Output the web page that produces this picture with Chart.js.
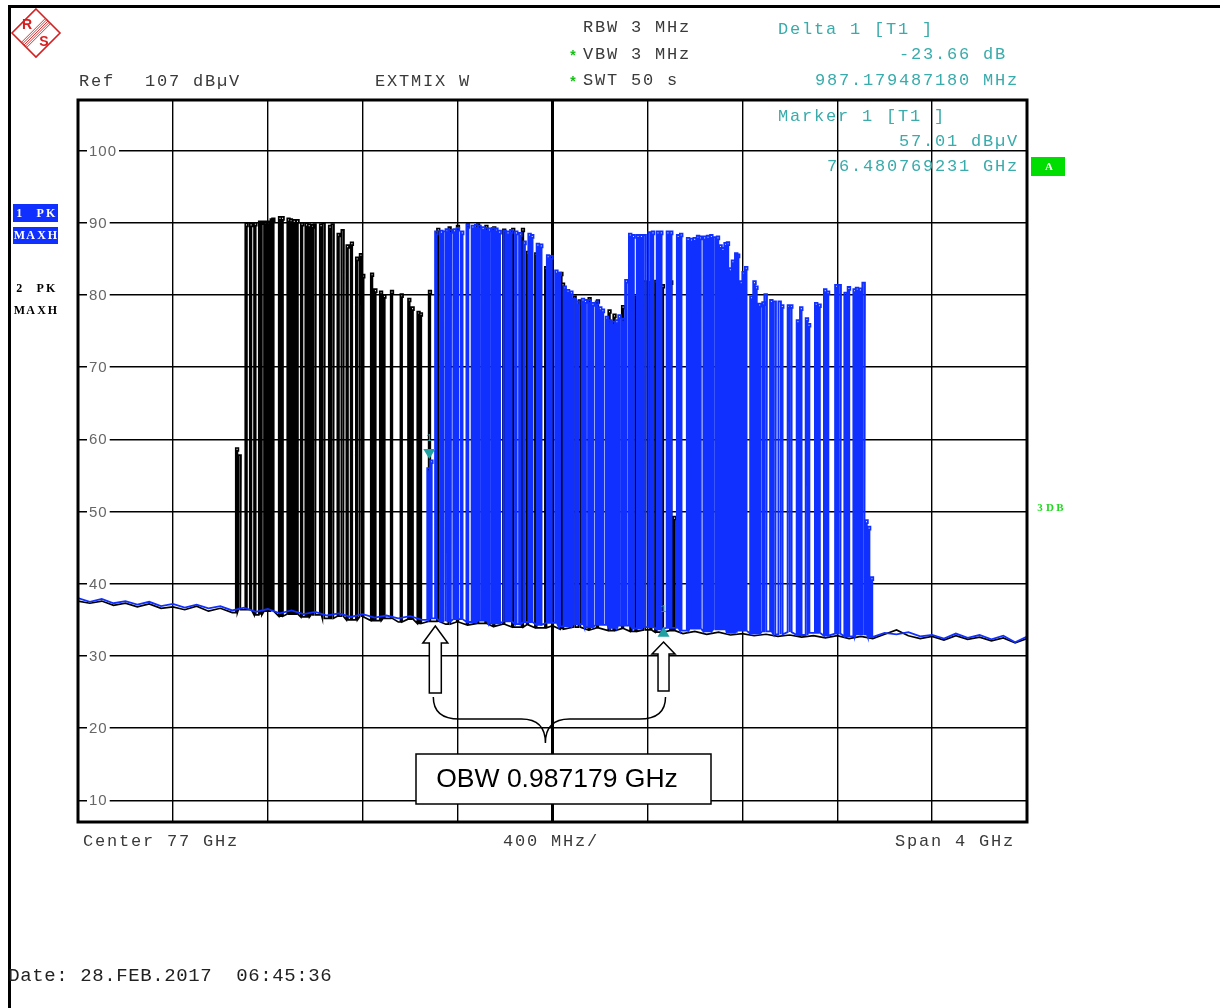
<!DOCTYPE html>
<html>
<head>
<meta charset="utf-8">
<title>Spectrum OBW</title>
<script src="https://cdn.jsdelivr.net/npm/chart.js@4.4.1/dist/chart.umd.min.js"></script>
<style>
  html, body { margin: 0; padding: 0; background: #fff; }
  canvas { display: block; }
</style>
</head>
<body>
<canvas id="spectrum" width="1220" height="1008"></canvas>
<script>
// trace 2 (black, PK MAXH) - line frequencies in GHz and peak levels in dBuV
const blackFreqs = [75.665, 75.676, 75.705, 75.724, 75.742, 75.762, 75.768, 75.784, 75.798, 75.811,
  75.818, 75.846, 75.857, 75.882, 75.892, 75.906, 75.920, 75.939, 75.958, 75.969,
  75.983, 75.992, 76.019, 76.030, 76.057, 76.068, 76.093, 76.110, 76.131, 76.149,
  76.171, 76.187, 76.197, 76.234, 76.248, 76.272, 76.286, 76.318, 76.359, 76.391,
  76.405, 76.430, 76.440, 76.478, 76.513, 76.561, 76.596, 76.638, 76.681, 76.716,
  76.749, 76.791, 76.829, 76.870, 76.891, 76.926, 76.968, 77.032, 77.039, 77.088,
  77.109, 77.151, 77.186, 77.235, 77.256, 77.292, 77.327, 77.348, 77.383, 77.411,
  77.432, 77.460, 77.495, 77.509];
const blackPeaks = [58.8, 57.8, 89.9, 89.9, 90.0, 90.2, 90.2, 90.2, 90.2, 90.5,
  90.6, 90.8, 90.8, 90.6, 90.5, 90.4, 90.4, 90.0, 89.9, 89.8,
  89.7, 89.8, 89.8, 89.9, 89.6, 89.8, 88.5, 89.0, 86.9, 87.3,
  85.2, 85.7, 82.8, 83.0, 80.8, 80.5, 80.0, 80.6, 80.1, 79.5,
  78.3, 77.7, 77.5, 80.6, 89.2, 89.4, 89.6, 89.8, 89.8, 89.6,
  89.4, 89.1, 89.2, 89.2, 86.0, 85.8, 83.9, 83.1, 81.6, 79.8,
  79.3, 79.6, 79.3, 77.9, 77.3, 78.5, 80.9, 79.8, 81.9, 81.8,
  82.0, 81.4, 81.9, 49.3];

// trace 1 (blue, PK MAXH)
const blueFreqs = [76.472, 76.484, 76.505, 76.526, 76.540, 76.550, 76.564, 76.582, 76.596, 76.614,
  76.638, 76.659, 76.673, 76.687, 76.702, 76.716, 76.729, 76.744, 76.758, 76.772,
  76.793, 76.807, 76.821, 76.842, 76.859, 76.877, 76.898, 76.909, 76.933, 76.947,
  76.976, 76.990, 77.011, 77.025, 77.046, 77.060, 77.074, 77.088, 77.102, 77.123,
  77.134, 77.151, 77.165, 77.182, 77.196, 77.207, 77.224, 77.238, 77.252, 77.266,
  77.277, 77.292, 77.306, 77.322, 77.336, 77.355, 77.369, 77.383, 77.404, 77.418,
  77.439, 77.453, 77.481, 77.495, 77.524, 77.537, 77.566, 77.580, 77.594, 77.608,
  77.618, 77.636, 77.650, 77.664, 77.678, 77.692, 77.703, 77.713, 77.724, 77.734,
  77.744, 77.755, 77.769, 77.777, 77.790, 77.800, 77.811, 77.833, 77.846, 77.854,
  77.868, 77.884, 77.893, 77.917, 77.931, 77.952, 77.963, 77.991, 78.001, 78.029,
  78.043, 78.067, 78.076, 78.106, 78.120, 78.144, 78.156, 78.191, 78.205, 78.230,
  78.244, 78.268, 78.278, 78.292, 78.306, 78.318, 78.329, 78.341];
const bluePeaks = [56.0, 57.1, 88.8, 88.9, 88.8, 89.1, 89.0, 89.1, 89.3, 88.8,
  89.7, 89.6, 89.7, 89.6, 89.4, 89.3, 89.2, 89.3, 89.2, 88.9,
  88.9, 88.8, 89.0, 88.8, 88.6, 87.4, 88.5, 88.3, 87.1, 87.0,
  85.5, 85.4, 83.4, 83.1, 81.2, 80.7, 80.5, 79.5, 79.1, 79.5,
  79.3, 79.3, 78.9, 79.1, 78.3, 78.0, 77.0, 76.5, 76.3, 76.5,
  77.2, 76.7, 82.1, 88.5, 88.3, 88.3, 88.3, 88.3, 88.7, 88.8,
  88.8, 88.8, 88.8, 88.8, 88.3, 88.5, 87.9, 87.8, 87.9, 88.2,
  88.1, 88.1, 88.2, 88.3, 88.0, 88.1, 86.9, 86.5, 87.2, 87.3,
  83.7, 84.8, 85.8, 85.6, 81.9, 83.2, 83.9, 79.8, 81.9, 81.2,
  78.8, 79.0, 80.1, 79.3, 79.1, 79.1, 78.6, 78.6, 78.6, 76.5,
  78.3, 76.8, 76.0, 78.9, 78.7, 80.8, 80.5, 81.4, 81.4, 80.3,
  81.1, 80.8, 81.0, 80.9, 81.7, 48.8, 47.9, 40.9];

// noise floor, one value every 50 MHz from 75 GHz to 79 GHz
const floorStart = 75;
const floorStep = 0.05;
const blueFloor = [38.0, 37.5, 37.9, 37.3, 37.6, 37.1, 37.5, 36.9, 37.2, 36.7,
  37.1, 36.6, 36.9, 36.3, 36.7, 36.1, 36.5, 35.9, 36.3, 35.8,
  36.1, 35.6, 35.9, 35.4, 35.8, 35.3, 35.6, 35.2, 35.5, 35.0,
  35.2, 34.8, 35.1, 34.7, 34.9, 34.5, 34.8, 34.4, 34.7, 34.3,
  34.6, 34.1, 34.4, 34.0, 34.3, 33.9, 34.2, 33.8, 34.0, 33.7,
  33.9, 33.5, 33.8, 33.4, 33.7, 33.2, 33.5, 33.1, 33.4, 33.0,
  33.3, 32.9, 33.2, 32.8, 33.1, 32.7, 33.0, 32.6, 33.2, 33.0,
  33.3, 32.7, 32.9, 32.4, 33.1, 32.5, 32.9, 32.3, 32.8, 31.9, 32.7];
const blackFloor = [37.6, 37.3, 37.6, 37.0, 37.3, 36.8, 37.2, 36.6, 36.8, 36.4,
  36.9, 36.2, 36.6, 36.0, 36.4, 35.7, 36.2, 35.5, 35.8, 35.4,
  35.7, 35.2, 35.5, 35.0, 35.4, 34.9, 35.2, 34.7, 35.1, 34.5,
  34.8, 34.4, 34.7, 34.3, 34.5, 34.1, 34.4, 34.0, 34.3, 33.9,
  34.2, 33.7, 34.0, 33.6, 33.9, 33.5, 33.8, 33.4, 33.6, 33.3,
  33.5, 33.1, 33.4, 33.0, 33.3, 32.9, 33.1, 32.8, 33.0, 32.7,
  32.9, 32.6, 32.8, 32.5, 32.8, 32.4, 32.7, 32.4, 33.0, 33.6,
  32.8, 32.4, 32.7, 32.2, 32.8, 32.3, 32.6, 32.1, 32.5, 31.8, 32.4];

// markers: marker 1 and delta 1
const markerFreqs = [76.480769, 77.467949];
const markerLevels = [57.01, 33.35];

const xTicks = [75.4, 75.8, 76.2, 76.6, 77.0, 77.4, 77.8, 78.2, 78.6];
const yTicks = [10, 20, 30, 40, 50, 60, 70, 80, 90, 100];

const floorFreqs = blueFloor.map((v, i) => +(floorStart + i * floorStep).toFixed(3));

function buildTrace(freqs, peaks, floor) {
  const items = [];
  freqs.forEach((f, i) => items.push({ x: f, peak: peaks[i], spike: true }));
  floorFreqs.forEach((f, i) => {
    const inside = freqs.some(s => f > s - 0.003 && f < s + 0.015);
    if (!inside) items.push({ x: f, y: floor[i] });
  });
  items.sort((a, b) => a.x - b.x);
  const pts = [];
  items.forEach(it => {
    if (!it.spike) {
      pts.push({ x: it.x, y: it.y });
      return;
    }
    const base = floor[Math.round((it.x - floorStart) / floorStep)];
    pts.push({ x: it.x, y: base }, { x: it.x, y: it.peak },
      { x: it.x + 0.011, y: it.peak }, { x: it.x + 0.011, y: it.peak - 0.4 },
      { x: it.x + 0.007, y: it.peak - 0.4 }, { x: it.x + 0.007, y: base });
  });
  return pts;
}

const TEAL = '#3aabab';
const GREY = '#3a3a3a';

function mono(ctx, str, x, y, color, size, pitch) {
  ctx.fillStyle = color;
  ctx.font = (size || 17) + 'px "Liberation Mono"';
  ctx.textAlign = 'center';
  ctx.textBaseline = 'middle';
  const p = pitch || 12;
  for (let i = 0; i < str.length; i++) {
    ctx.fillText(str[i], x + i * p + p / 2, y);
  }
}

function hollowArrow(ctx, cx, tipY, headW, headH, shaftW, bottomY) {
  ctx.beginPath();
  ctx.moveTo(cx, tipY);
  ctx.lineTo(cx + headW / 2, tipY + headH);
  ctx.lineTo(cx + shaftW / 2, tipY + headH);
  ctx.lineTo(cx + shaftW / 2, bottomY);
  ctx.lineTo(cx - shaftW / 2, bottomY);
  ctx.lineTo(cx - shaftW / 2, tipY + headH);
  ctx.lineTo(cx - headW / 2, tipY + headH);
  ctx.closePath();
  ctx.fillStyle = '#fff';
  ctx.fill();
  ctx.strokeStyle = '#000';
  ctx.lineWidth = 1.5;
  ctx.stroke();
}

const decorations = {
  id: 'decorations',
  beforeDatasetsDraw(chart) {
    const ctx = chart.ctx;
    const area = chart.chartArea;
    const y = chart.scales.y;
    ctx.save();
    // level labels sitting on the grid lines
    ctx.font = '15px "Liberation Sans"';
    ctx.textBaseline = 'middle';
    ctx.textAlign = 'left';
    yTicks.forEach(v => {
      const py = y.getPixelForValue(v);
      const label = String(v);
      const w = ctx.measureText(label).width + label.length;
      ctx.fillStyle = '#fff';
      ctx.fillRect(area.left + 9, py - 3, w + 4, 6);
      ctx.fillStyle = '#666';
      let cx = area.left + 11;
      for (const ch of label) {
        ctx.fillText(ch, cx, py + 1);
        cx += ctx.measureText(ch).width + 1;
      }
    });
    ctx.restore();
  },
  afterDraw(chart) {
    const ctx = chart.ctx;
    const area = chart.chartArea;
    const xs = chart.scales.x;
    const ys = chart.scales.y;
    ctx.save();

    // page border
    ctx.fillStyle = '#000';
    ctx.fillRect(8, 5, 1212, 3);
    ctx.fillRect(8, 5, 3, 1003);

    // plot frame
    ctx.strokeStyle = '#000';
    ctx.lineWidth = 3;
    ctx.strokeRect(area.left, area.top, area.right - area.left, area.bottom - area.top);

    // R&S logo
    ctx.save();
    ctx.translate(36, 33);
    ctx.strokeStyle = '#d42020';
    ctx.fillStyle = '#d42020';
    ctx.lineWidth = 1.6;
    ctx.beginPath();
    ctx.moveTo(0, -24); ctx.lineTo(24, 0); ctx.lineTo(0, 24); ctx.lineTo(-24, 0); ctx.closePath();
    ctx.stroke();
    ctx.lineWidth = 0.9;
    for (let k = -2; k <= 2; k++) {
      ctx.beginPath();
      ctx.moveTo(-12 + k * 1.3, 12 + k * 1.3);
      ctx.lineTo(12 + k * 1.3, -12 + k * 1.3);
      ctx.stroke();
    }
    ctx.font = 'bold 14px "Liberation Sans"';
    ctx.textAlign = 'center';
    ctx.textBaseline = 'middle';
    ctx.fillText('R', -9, -8);
    ctx.fillText('S', 8, 9);
    ctx.restore();

    // header
    mono(ctx, 'RBW 3 MHz', 582, 27, GREY);
    mono(ctx, 'VBW 3 MHz', 582, 54, GREY);
    mono(ctx, 'SWT 50 s', 582, 80, GREY);
    ctx.fillStyle = '#12c012';
    ctx.font = 'bold 14px "Liberation Mono"';
    ctx.textAlign = 'center';
    ctx.fillText('*', 573, 57);
    ctx.fillText('*', 573, 83);
    mono(ctx, 'Delta 1 [T1 ]', 777, 29, TEAL);
    mono(ctx, '-23.66 dB', 898, 54, TEAL);
    mono(ctx, '987.179487180 MHz', 814, 80, TEAL);
    mono(ctx, 'Ref', 78, 81, GREY);
    mono(ctx, '107 dBµV', 144, 81, GREY);
    mono(ctx, 'EXTMIX W', 374, 81, GREY);
    mono(ctx, 'Marker 1 [T1 ]', 777, 116, TEAL);
    mono(ctx, '57.01 dBµV', 898, 141, TEAL);
    mono(ctx, '76.480769231 GHz', 826, 166, TEAL);
    mono(ctx, 'Center 77 GHz', 82, 841, GREY);
    mono(ctx, '400 MHz/', 502, 841, GREY);
    mono(ctx, 'Span 4 GHz', 894, 841, GREY);
    mono(ctx, 'Date: 28.FEB.2017  06:45:36', 8, 976, '#222', 19, 12);

    // trace labels on the left
    ctx.fillStyle = '#1030ff';
    ctx.fillRect(13, 204, 45, 18);
    ctx.fillRect(13, 227, 45, 17);
    ctx.font = 'bold 12px "Liberation Serif"';
    ctx.textAlign = 'center';
    ctx.textBaseline = 'middle';
    const small = (str, x, yy, color, pitch) => {
      ctx.fillStyle = color;
      const p = pitch || 11;
      for (let i = 0; i < str.length; i++) ctx.fillText(str[i], x + i * p + p / 2, yy);
    };
    small('1 PK', 14, 214, '#fff', 10.5);
    small('MAXH', 14, 236, '#fff', 11);
    small('2 PK', 14, 289, '#000', 10.5);
    small('MAXH', 14, 311, '#000', 11);

    // green "A" and 3DB flags
    ctx.fillStyle = '#00dd00';
    ctx.fillRect(1031, 157, 34, 19);
    ctx.fillStyle = '#fff';
    ctx.font = 'bold 11px "Liberation Serif"';
    ctx.fillText('A', 1049, 167);
    small('3DB', 1035, 508, '#22d822', 10);

    // markers
    const m1x = xs.getPixelForValue(markerFreqs[0]);
    const m1y = ys.getPixelForValue(markerLevels[0]);
    const d1x = xs.getPixelForValue(markerFreqs[1]);
    const d1y = ys.getPixelForValue(markerLevels[1]);
    ctx.fillStyle = '#20a0a0';
    ctx.beginPath();
    ctx.moveTo(m1x, m1y - 2); ctx.lineTo(m1x - 6, m1y - 12); ctx.lineTo(m1x + 6, m1y - 12); ctx.closePath();
    ctx.fill();
    ctx.beginPath();
    ctx.moveTo(d1x, d1y - 5); ctx.lineTo(d1x - 6, d1y + 5); ctx.lineTo(d1x + 6, d1y + 5); ctx.closePath();
    ctx.fill();
    ctx.font = '10px "Liberation Mono"';
    ctx.fillText('1', m1x, m1y - 23);
    ctx.fillText('1', d1x, d1y - 22);

    // OBW annotation
    const lx = m1x + 6;
    const rx = d1x;
    hollowArrow(ctx, lx, 626, 25, 17, 12, 693);
    hollowArrow(ctx, rx, 642, 23, 12, 11, 691);
    const mid = (lx + rx) / 2 - 4;
    ctx.strokeStyle = '#000';
    ctx.lineWidth = 1.5;
    ctx.beginPath();
    ctx.moveTo(lx - 2, 697);
    ctx.quadraticCurveTo(lx - 2, 719, lx + 24, 719);
    ctx.lineTo(mid - 24, 719);
    ctx.quadraticCurveTo(mid, 719, mid, 743);
    ctx.quadraticCurveTo(mid, 719, mid + 24, 719);
    ctx.lineTo(rx - 24, 719);
    ctx.quadraticCurveTo(rx + 2, 719, rx + 2, 697);
    ctx.stroke();
    ctx.fillStyle = '#fff';
    ctx.fillRect(416, 754, 295, 50);
    ctx.strokeRect(416, 754, 295, 50);
    ctx.fillStyle = '#000';
    ctx.font = '26.5px "Liberation Sans"';
    ctx.textAlign = 'center';
    ctx.textBaseline = 'middle';
    ctx.fillText('OBW 0.987179 GHz', 557, 780);

    ctx.restore();
  }
};

new Chart(document.getElementById('spectrum'), {
  type: 'line',
  data: {
    datasets: [
      {
        label: '1 PK MAXH',
        data: buildTrace(blueFreqs, bluePeaks, blueFloor),
        borderColor: '#1030ff',
        borderWidth: 1.8,
        pointRadius: 0,
        tension: 0,
        order: 0
      },
      {
        label: '2 PK MAXH',
        data: buildTrace(blackFreqs, blackPeaks, blackFloor),
        borderColor: '#000',
        borderWidth: 1.7,
        pointRadius: 0,
        tension: 0,
        order: 1
      }
    ]
  },
  options: {
    responsive: false,
    devicePixelRatio: 1,
    animation: false,
    layout: { padding: { left: 78, top: 100, right: 193, bottom: 186 } },
    plugins: {
      legend: { display: false },
      tooltip: { enabled: false }
    },
    scales: {
      x: {
        type: 'linear',
        min: 75,
        max: 79,
        afterBuildTicks: axis => { axis.ticks = xTicks.map(v => ({ value: v })); },
        ticks: { display: false },
        border: { display: false },
        grid: {
          drawTicks: false,
          color: '#000',
          lineWidth: c => (c.tick && Math.abs(c.tick.value - 77) < 1e-6 ? 3 : 1.4)
        }
      },
      y: {
        type: 'linear',
        min: 7,
        max: 107,
        afterBuildTicks: axis => { axis.ticks = yTicks.map(v => ({ value: v })); },
        ticks: { display: false },
        border: { display: false },
        grid: { drawTicks: false, color: '#000', lineWidth: 1.4 }
      }
    }
  },
  plugins: [decorations]
});
</script>
</body>
</html>
